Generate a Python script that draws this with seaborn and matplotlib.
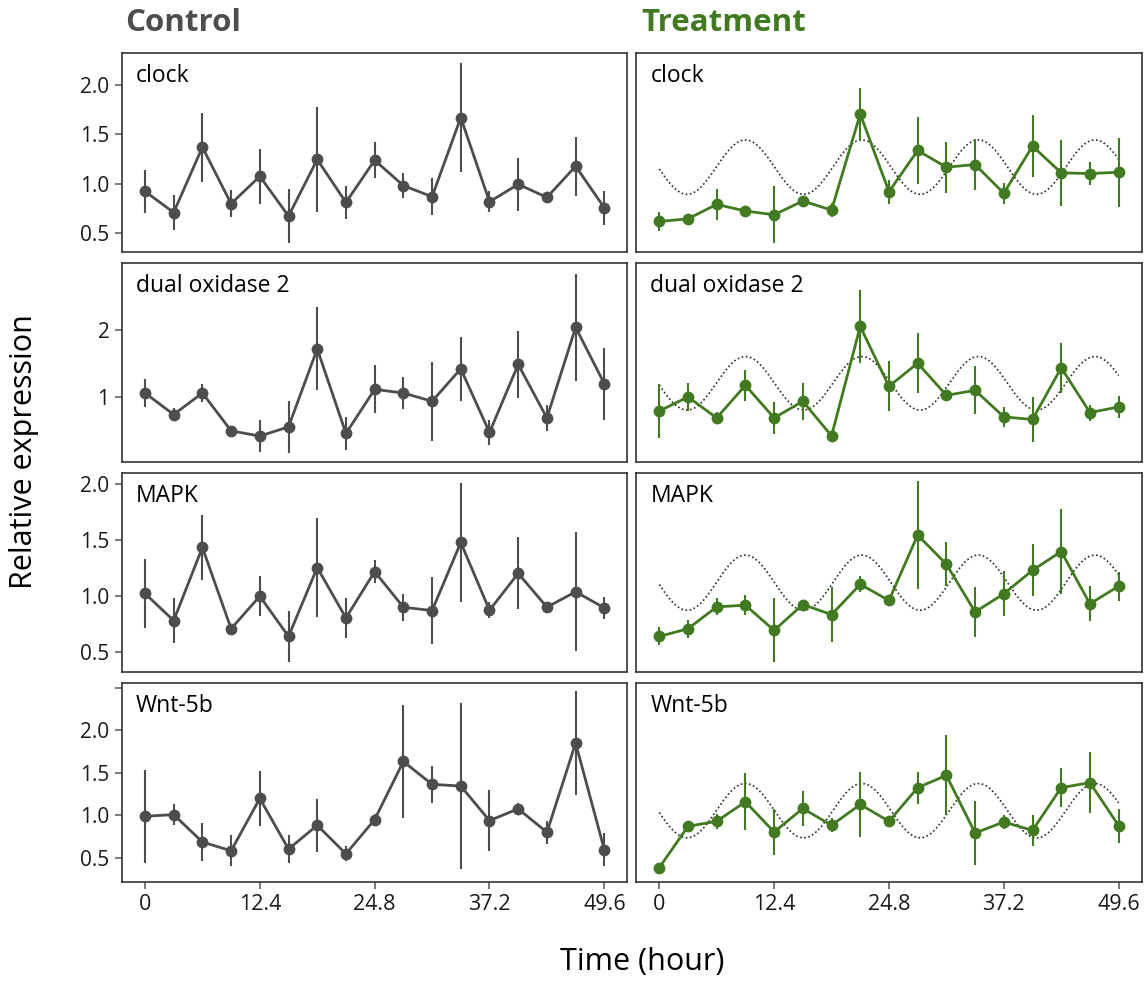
import numpy as np
import pandas as pd
import matplotlib
matplotlib.use("Agg")
import matplotlib.pyplot as plt
import seaborn as sns

# ---------------- data ----------------
time_h = [0, 3.1, 6.2, 9.3, 12.4, 15.5, 18.6, 21.7, 24.8, 27.9, 31.0, 34.1, 37.2, 40.3, 43.4, 46.5, 49.6]
genes = ["clock", "dual oxidase 2", "MAPK", "Wnt-5b"]
groups = ["Control", "Treatment"]
x_ticks = [0, 12.4, 24.8, 37.2, 49.6]
x_tick_labels = ["0", "12.4", "24.8", "37.2", "49.6"]

clock_ctrl_mean = [0.925, 0.711, 1.372, 0.80, 1.077, 0.675, 1.247, 0.813, 1.24, 0.983, 0.871, 1.671, 0.82, 0.996, 0.864, 1.179, 0.759]
clock_ctrl_err = [0.22, 0.18, 0.35, 0.135, 0.28, 0.275, 0.53, 0.17, 0.18, 0.13, 0.19, 0.555, 0.105, 0.27, 0.04, 0.30, 0.17]
clock_trt_mean = [0.62, 0.647, 0.793, 0.726, 0.688, 0.827, 0.736, 1.707, 0.922, 1.338, 1.169, 1.196, 0.905, 1.382, 1.112, 1.105, 1.118]
clock_trt_err = [0.10, 0.04, 0.155, 0.03, 0.29, 0.03, 0.07, 0.26, 0.12, 0.34, 0.26, 0.26, 0.105, 0.31, 0.335, 0.12, 0.35]

duox_ctrl_mean = [1.06, 0.738, 1.06, 0.495, 0.416, 0.554, 1.719, 0.456, 1.114, 1.06, 0.936, 1.422, 0.47, 1.486, 0.688, 2.04, 1.199]
duox_ctrl_err = [0.21, 0.10, 0.13, 0.03, 0.235, 0.39, 0.62, 0.25, 0.36, 0.24, 0.59, 0.475, 0.185, 0.50, 0.19, 0.80, 0.54]
duox_trt_mean = [0.792, 1.0, 0.688, 1.174, 0.688, 0.936, 0.42, 2.055, 1.159, 1.505, 1.025, 1.10, 0.703, 0.664, 1.437, 0.768, 0.851]
duox_trt_err = [0.40, 0.21, 0.09, 0.23, 0.235, 0.28, 0.05, 0.55, 0.375, 0.45, 0.04, 0.36, 0.15, 0.33, 0.37, 0.12, 0.165]

mapk_ctrl_mean = [1.024, 0.783, 1.433, 0.711, 1.0, 0.642, 1.254, 0.807, 1.218, 0.902, 0.872, 1.477, 0.875, 1.203, 0.902, 1.039, 0.896]
mapk_ctrl_err = [0.31, 0.20, 0.29, 0.02, 0.18, 0.225, 0.44, 0.18, 0.105, 0.12, 0.30, 0.53, 0.07, 0.32, 0.02, 0.53, 0.095]
mapk_trt_mean = [0.642, 0.711, 0.905, 0.92, 0.696, 0.926, 0.836, 1.105, 0.962, 1.543, 1.284, 0.86, 1.021, 1.23, 1.397, 0.932, 1.089]
mapk_trt_err = [0.08, 0.08, 0.075, 0.09, 0.285, 0.04, 0.245, 0.07, 0.03, 0.48, 0.195, 0.225, 0.20, 0.23, 0.375, 0.155, 0.13]

wnt_ctrl_mean = [0.988, 1.008, 0.685, 0.582, 1.198, 0.602, 0.882, 0.546, 0.949, 1.633, 1.364, 1.344, 0.937, 1.076, 0.799, 1.85, 0.594]
wnt_ctrl_err = [0.545, 0.12, 0.22, 0.18, 0.32, 0.165, 0.315, 0.09, 0.07, 0.66, 0.22, 0.98, 0.355, 0.07, 0.135, 0.61, 0.195]
wnt_trt_mean = [0.384, 0.87, 0.929, 1.159, 0.803, 1.08, 0.882, 1.127, 0.929, 1.325, 1.47, 0.791, 0.921, 0.822, 1.325, 1.384, 0.878]
wnt_trt_err = [0.0, 0.03, 0.09, 0.335, 0.27, 0.21, 0.08, 0.38, 0.02, 0.19, 0.47, 0.38, 0.08, 0.18, 0.23, 0.36, 0.20]

# cosinor fit of the treatment series (mesor, amplitude, acrophase [h], period [h])
fit_mesor = [1.17, 1.205, 1.12, 1.054]
fit_amplitude = [0.275, 0.40, 0.245, 0.32]
fit_acrophase = [9.3, 9.3, 9.3, 9.3]
fit_period = [12.58, 12.58, 12.58, 12.58]

y_ticks = [[0.5, 1.0, 1.5, 2.0], [1, 2], [0.5, 1.0, 1.5, 2.0], [0.5, 1.0, 1.5, 2.0, 2.5]]
y_tick_labels = [["0.5", "1.0", "1.5", "2.0"], ["1", "2"], ["0.5", "1.0", "1.5", "2.0"], ["0.5", "1.0", "1.5", "2.0", ""]]
y_limits = [(0.315, 2.327), (0.034, 3.006), (0.329, 2.097), (0.218, 2.56)]

means = {
    ("clock", "Control"): (clock_ctrl_mean, clock_ctrl_err),
    ("clock", "Treatment"): (clock_trt_mean, clock_trt_err),
    ("dual oxidase 2", "Control"): (duox_ctrl_mean, duox_ctrl_err),
    ("dual oxidase 2", "Treatment"): (duox_trt_mean, duox_trt_err),
    ("MAPK", "Control"): (mapk_ctrl_mean, mapk_ctrl_err),
    ("MAPK", "Treatment"): (mapk_trt_mean, mapk_trt_err),
    ("Wnt-5b", "Control"): (wnt_ctrl_mean, wnt_ctrl_err),
    ("Wnt-5b", "Treatment"): (wnt_trt_mean, wnt_trt_err),
}

rows = []
for (g, grp), (m, e) in means.items():
    for t, mv, ev in zip(time_h, m, e):
        rows.append({"gene": g, "group": grp, "time": t, "mean": mv, "err": ev})
df = pd.DataFrame(rows)

colors = {"Control": "#4d4d4d", "Treatment": "#417a21"}

# ---------------- style ----------------
sns.set_theme(style="white")
plt.rcParams["font.family"] = ["Open Sans", "DejaVu Sans"]

W, H = 1146, 981
fig, axes = plt.subplots(4, 2, figsize=(W / 100, H / 100), dpi=100, sharex=True)
fig.subplots_adjust(left=122 / W, right=1141.6 / W, top=1 - 52.7 / H, bottom=1 - 881.7 / H,
                    wspace=9 / 505, hspace=11 / 198)

t_fine = np.linspace(0, 49.6, 400)

for r, gene in enumerate(genes):
    for c, grp in enumerate(groups):
        ax = axes[r, c]
        sub = df[(df.gene == gene) & (df.group == grp)]
        col = colors[grp]
        if grp == "Treatment":
            fit = fit_mesor[r] + fit_amplitude[r] * np.cos(2 * np.pi * (t_fine - fit_acrophase[r]) / fit_period[r])
            sns.lineplot(x=t_fine, y=fit, ax=ax, color="#2b2b2b", linestyle=(0, (1, 1.5)), linewidth=1.2,
                         zorder=1)
        ax.vlines(sub["time"], sub["mean"] - sub["err"], sub["mean"] + sub["err"], color=col,
                  linewidth=1.5, zorder=2)
        sns.lineplot(data=sub, x="time", y="mean", ax=ax, color=col, linewidth=2.0, marker="o",
                     markersize=8.5, markeredgewidth=0, zorder=3)
        ax.set_xlim(-2.48, 52.08)
        ax.set_ylim(*y_limits[r])
        ax.set_xlabel("")
        ax.set_ylabel("")
        ax.text(0.028, 0.885, gene, transform=ax.transAxes, fontsize=16.5, color="black",
                ha="left", va="center")
        for s in ax.spines.values():
            s.set_visible(True)
            s.set_color("#333333")
            s.set_linewidth(1.2)
        if c == 0:
            ax.set_yticks(y_ticks[r])
            ax.set_yticklabels(y_tick_labels[r])
            ax.tick_params(axis="y", left=True, length=5, width=1.1, color="#555555",
                           labelsize=15, labelcolor="#1a1a1a", pad=4)
        else:
            ax.set_yticks(y_ticks[r])
            ax.tick_params(axis="y", left=False, labelleft=False)
        ax.set_xticks(x_ticks)
        ax.set_xticklabels(x_tick_labels)
        if r == 3:
            ax.tick_params(axis="x", bottom=True, length=5, width=1.1, color="#555555",
                           labelsize=15.5, labelcolor="#1a1a1a", pad=4)
        else:
            ax.tick_params(axis="x", bottom=False, labelbottom=False)
        ax.grid(False)

fig.text(125 / W, 1 - 23 / H, "Control", fontsize=22.5, fontweight="bold", color="#4d4d4d",
         ha="left", va="center")
fig.text(641 / W, 1 - 23 / H, "Treatment", fontsize=22.5, fontweight="bold", color="#417a21",
         ha="left", va="center")
fig.text(642 / W, 1 - 962 / H, "Time (hour)", fontsize=22, color="black", ha="center", va="center")
fig.text(24 / W, 1 - 452 / H, "Relative expression", fontsize=22, color="black", ha="center",
         va="center", rotation=90)

fig.savefig("out.png", dpi=100, facecolor="white")
